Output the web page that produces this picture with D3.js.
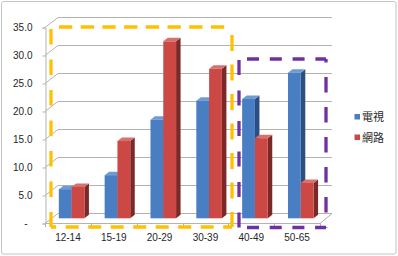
<!DOCTYPE html>
<html><head><meta charset="utf-8">
<script src="https://cdn.jsdelivr.net/npm/d3@7"></script>
<style>html,body{margin:0;padding:0;background:#fff;}svg{display:block;}</style>
</head><body>
<script>
const categories = ["12-14","15-19","20-29","30-39","40-49","50-65"];
const seriesNames = ["電視","網路"];
const tvValues = [5.2, 7.7, 17.6, 21.0, 21.3, 26.0];
const netValues = [5.6, 13.8, 31.6, 26.7, 14.3, 6.3];
const yTicks = [0,5,10,15,20,25,30,35];
const yTickLabels = ["-","5.0","10.0","15.0","20.0","25.0","30.0","35.0"];

const W=398,H=256;
const svg=d3.select("body").append("svg").attr("width",W).attr("height",H);

// chart border
svg.append("rect").attr("x",1.5).attr("y",1.5).attr("width",394.5).attr("height",252.5)
  .attr("fill","#fff").attr("stroke","#c4c4c4").attr("stroke-width",1).attr("rx",2);

const x=d3.scaleBand().domain(categories).range([45,320]);
const y=d3.scaleLinear().domain([0,35]).range([223,27]);
const DX=13, DY=-10; // wall depth
const gridC="#b3b3b3";
const fontLat="Liberation Sans, Arial, sans-serif";

// back wall gridlines
svg.append("g").selectAll("line").data(yTicks).join("line")
  .attr("x1",58).attr("x2",332).attr("y1",d=>y(d)+DY+0.5).attr("y2",d=>y(d)+DY+0.5)
  .attr("stroke",gridC);
// side wall diagonals
svg.append("g").selectAll("line").data(yTicks).join("line")
  .attr("x1",45).attr("y1",d=>y(d)+0.5).attr("x2",58).attr("y2",d=>y(d)+DY+0.5)
  .attr("stroke",gridC);
// floor front and right edge
svg.append("line").attr("x1",45).attr("x2",320).attr("y1",y(0)+0.5).attr("y2",y(0)+0.5).attr("stroke",gridC);
svg.append("line").attr("x1",320).attr("y1",y(0)+0.5).attr("x2",332).attr("y2",y(0)+DY+0.5).attr("stroke",gridC);

// y axis line & ticks
const yAxis=d3.axisLeft(y).tickValues(yTicks).tickFormat((d,i)=>yTickLabels[i]).tickSize(3).tickPadding(10);
const gy=svg.append("g").attr("transform","translate(45.5,0.5)").call(yAxis);
gy.select(".domain").attr("stroke",gridC);
gy.selectAll(".tick line").attr("stroke",gridC);
gy.selectAll("text").attr("font-family",fontLat).attr("font-size","10px").attr("fill","#262626");
gy.selectAll(".tick").filter(d=>d===0).select("text").attr("dx",-5);

// x axis
const xAxis=d3.axisBottom(x).tickSize(0).tickPadding(10.5);
const gx=svg.append("g").attr("transform","translate(0,"+(y(0)+0.5)+")").call(xAxis);
gx.select(".domain").remove();
gx.selectAll(".tick line").remove();
gx.selectAll("text").attr("font-family",fontLat).attr("font-size","10px").attr("fill","#262626");
// category boundary ticks
const bounds=categories.map(c=>x(c)).concat([x.range()[1]]);
svg.append("g").selectAll("line").data(bounds).join("line")
  .attr("x1",d=>Math.round(d)+0.5).attr("x2",d=>Math.round(d)+0.5)
  .attr("y1",y(0)).attr("y2",y(0)+4).attr("stroke",gridC);

// bars
const BW=12.8, bdx=4.5, bdy=-3.5, offX=3.7, offY=-4.7;
const colors=[{front:"#4a7ec2",side:"#2b4f80",top:"#6e9bd6",edge:"#8fb1e0"},
              {front:"#cc4845",side:"#7b2927",top:"#d9706d",edge:"#e39492"}];
const series=[tvValues,netValues];
const gb=svg.append("g");
categories.forEach((c,i)=>{
  const cx=x(c)+x.bandwidth()/2+offX;
  series.forEach((vals,s)=>{
    const v=vals[i];
    const x0=cx-BW+s*BW, x1=x0+BW;
    const yt=y(v)+offY, yb=y(0)+offY;
    const col=colors[s];
    gb.append("polygon").attr("points",[[x1,yt],[x1+bdx,yt+bdy],[x1+bdx,yb+bdy],[x1,yb]].join(" "))
      .attr("fill",col.side);
    gb.append("polygon").attr("points",[[x0,yt],[x0+bdx,yt+bdy],[x1+bdx,yt+bdy],[x1,yt]].join(" "))
      .attr("fill",col.top);
    gb.append("rect").attr("x",x0).attr("y",yt).attr("width",BW).attr("height",yb-yt)
      .attr("fill",col.front);
  });
});

// highlight dashed boxes, side by side with their own dash phase
function side(x1,y1,x2,y2,color,dash,gap,start){
  const P=dash+gap;
  svg.append("line").attr("x1",x1).attr("y1",y1).attr("x2",x2).attr("y2",y2)
    .attr("stroke",color).attr("stroke-width",3.3)
    .attr("stroke-dasharray",dash+" "+gap).attr("stroke-dashoffset",((P-start)%P+P)%P);
}
const Y="#FFC000", Pu="#7030A0";
side(51,27,232,27,Y,13.3,8.4,8);
side(232,27,232,227,Y,16,13.5,8);
side(51,27,51,227,Y,15.5,15,2);
side(51,227,232,227,Y,13,9.5,14.7);
side(239,59,326,59,Pu,12,10.8,8);
side(326,59,326,227.5,Pu,15.5,14.5,18);
side(239,59,239,227.5,Pu,15,15.5,1);
side(239,227.5,326,227.5,Pu,12,10.7,8);

// legend
const lg=svg.append("g");
const legY=[117,137.5];
seriesNames.forEach((n,i)=>{
  lg.append("rect").attr("x",354.5).attr("y",legY[i]-3).attr("width",5.5).attr("height",5.5)
    .attr("fill",colors[i].front);
  lg.append("text").attr("x",362).attr("y",legY[i]+4).text(n)
    .attr("font-family","Noto Sans CJK TC, sans-serif").attr("font-size","11px").attr("fill","#262626");
});
</script>
</body></html>
